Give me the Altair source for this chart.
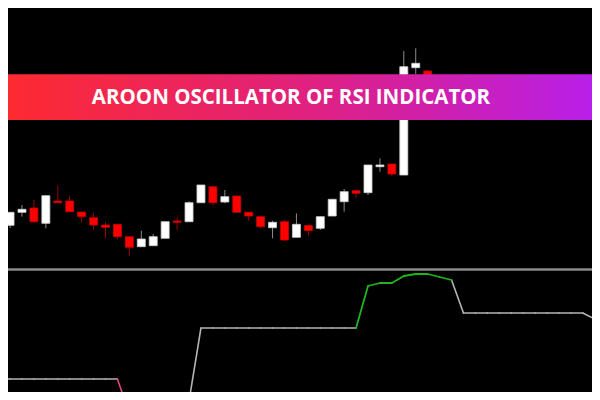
import altair as alt
import pandas as pd

# ---- candlestick data (bar index, direction, OHLC) ----
candle_idx = list(range(36))
candle_dir = ["up", "up", "down", "up", "down", "down", "down", "down", "down", "down",
              "down", "up", "up", "up", "down", "up", "up", "down", "up", "down",
              "down", "down", "up", "down", "up", "down", "up", "up", "up", "down",
              "up", "up", "down", "up", "up", "down"]
opens = [1.09747, 1.09877, 1.09920, 1.09767, 1.09990, 1.09990, 1.09880, 1.09823, 1.09750, 1.09757,
         1.09633, 1.09533, 1.09543, 1.09617, 1.09790, 1.09783, 1.09973, 1.10133, 1.09980, 1.10040,
         1.09877, 1.09833, 1.09723, 1.09783, 1.09627, 1.09745, 1.09717, 1.09840, 1.09983, 1.10093,
         1.10073, 1.10333, 1.10360, 1.10250, 1.11323, 1.11290]
highs = [1.09877, 1.09950, 1.10000, 1.10043, 1.10143, 1.10040, 1.09880, 1.09867, 1.09777, 1.09757,
         1.09640, 1.09693, 1.09660, 1.09783, 1.09827, 1.09987, 1.10150, 1.10133, 1.10100, 1.10040,
         1.09877, 1.09833, 1.09793, 1.09800, 1.09867, 1.09745, 1.09833, 1.10007, 1.10110, 1.10107,
         1.10350, 1.10417, 1.10360, 1.11490, 1.11517, 1.11300]
lows = [1.09720, 1.09833, 1.09770, 1.09717, 1.09970, 1.09883, 1.09773, 1.09700, 1.09617, 1.09607,
        1.09440, 1.09533, 1.09540, 1.09617, 1.09700, 1.09783, 1.09973, 1.09950, 1.09967, 1.09877,
        1.09793, 1.09717, 1.09617, 1.09590, 1.09627, 1.09645, 1.09700, 1.09840, 1.09883, 1.10023,
        1.10050, 1.10283, 1.10240, 1.10250, 1.11257, 1.11160]
closes = [1.09877, 1.09907, 1.09783, 1.10043, 1.09973, 1.09883, 1.09833, 1.09750, 1.09727, 1.09633,
          1.09527, 1.09610, 1.09633, 1.09783, 1.09777, 1.09973, 1.10150, 1.09973, 1.10033, 1.09877,
          1.09840, 1.09733, 1.09777, 1.09600, 1.09757, 1.09693, 1.09833, 1.10007, 1.10083, 1.10067,
          1.10350, 1.10350, 1.10260, 1.11333, 1.11367, 1.11200]

# ---- Aroon oscillator of RSI (bar index, value) ----
osc_idx = list(range(-1, 50))
osc_val = [-9, -9, -9, -9, -9, -9, -9, -9, -9, -9, -9,
           -44, -55, -62, -62, -50, -31,
           42, 42, 42, 42, 42, 42, 42, 42, 42, 42, 42, 42, 42, 42,
           84, 87, 87, 94, 96, 96, 93, 90,
           57, 57, 57, 57, 57, 57, 57, 57, 57, 57, 57,
           51]

banner_text = "AROON OSCILLATOR OF RSI INDICATOR"

candles = pd.DataFrame({"i": candle_idx, "dir": candle_dir, "open": opens,
                        "high": highs, "low": lows, "close": closes})

seg = pd.DataFrame({"i": osc_idx[:-1], "i2": osc_idx[1:],
                    "v": osc_val[:-1], "v2": osc_val[1:]})
seg["zone"] = ["up" if e >= 70 else ("down" if e <= -40 else "flat") for e in seg["v2"]]

W, H = 584, 384
xscale = alt.Scale(domain=[0.2471, 48.3526], nice=False, zero=False)
pscale = alt.Scale(domain=[1.0808, 1.1192], nice=False, zero=False)
oscale = alt.Scale(domain=[-22, 362], nice=False, zero=False)

base = alt.Chart(candles)
X = alt.X("i:Q", scale=xscale, axis=None)


def wick(d, col):
    return base.transform_filter(alt.datum.dir == d).mark_rule(
        color=col, strokeWidth=1, clip=True).encode(
        x=X, y=alt.Y("low:Q", scale=pscale, axis=None), y2="high:Q")


def body(d, fill, stroke):
    return base.transform_filter(alt.datum.dir == d).mark_bar(
        size=8, fill=fill, stroke=stroke, strokeWidth=0.8, clip=True).encode(
        x=X, y=alt.Y("open:Q", scale=pscale, axis=None), y2="close:Q")


sbase = alt.Chart(seg)


def osc(z, col, w):
    return sbase.transform_filter(alt.datum.zone == z).mark_rule(
        color=col, strokeWidth=w, clip=True, strokeCap="round").encode(
        x=alt.X("i:Q", scale=xscale, axis=None), x2="i2:Q",
        y=alt.Y("v:Q", scale=oscale, axis=None), y2="v2:Q")


deco = alt.Chart(pd.DataFrame({"t": [banner_text]}))

separator = deco.mark_rule(color="#8a8a8a", strokeWidth=2.5).encode(
    x=alt.value(0), x2=alt.value(W), y=alt.value(261.5))

banner = deco.mark_rect(
    color=alt.LinearGradient(
        gradient="linear", x1=0, x2=1, y1=0, y2=0,
        stops=[alt.GradientStop(color="#fd2a30", offset=0),
               alt.GradientStop(color="#e1217c", offset=0.5),
               alt.GradientStop(color="#b91fe8", offset=1)])
).encode(x=alt.value(0), x2=alt.value(W), y=alt.value(66.3), y2=alt.value(112))

title = deco.mark_text(color="white", font="Open Sans", fontWeight="bold",
                       fontSize=20.5, align="center", baseline="alphabetic").encode(
    text="t:N", x=alt.value(283), y=alt.value(95.5))

chart = alt.layer(
    wick("up", "#8c8c8c"), wick("down", "#a00000"),
    body("up", "#ffffff", "#cfcfcf"), body("down", "#ff0000", "#c80000"),
    separator,
    osc("flat", "#b4b4b4", 1.6), osc("down", "#e0457d", 1.6), osc("up", "#1fb51f", 1.8),
    banner, title
).resolve_scale(y="independent").properties(
    width=W, height=H, padding=0,
    autosize=alt.AutoSizeParams(type="none"),
    background="black"
).configure_view(stroke=None)

chart.save("out.html", embed_options={"renderer": "svg", "actions": False})
